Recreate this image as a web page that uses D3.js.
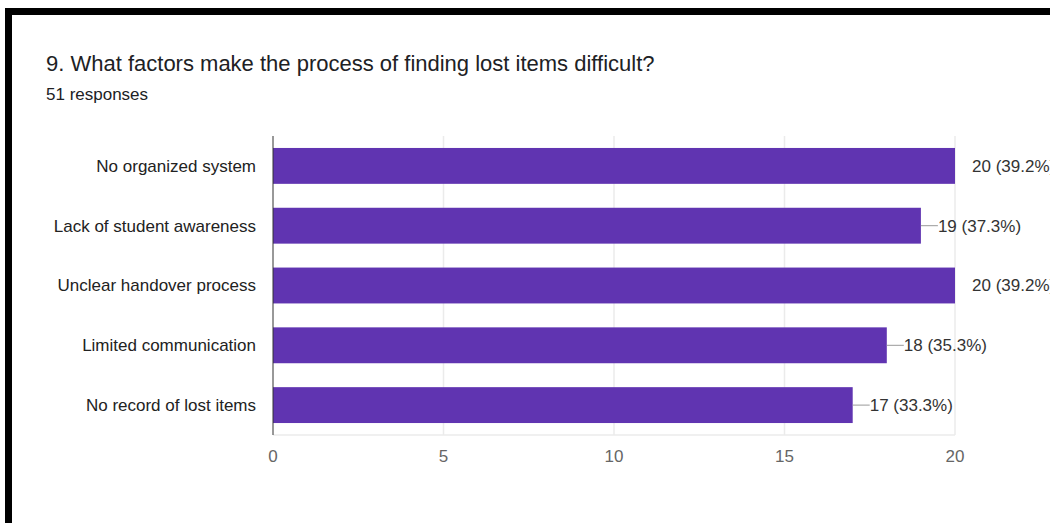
<!DOCTYPE html>
<html>
<head>
<meta charset="utf-8">
<script src="https://cdn.jsdelivr.net/npm/d3@7"></script>
<style>
  html, body { margin: 0; padding: 0; background: #fff; }
  svg { display: block; }
  text { font-family: "Liberation Sans", Arial, sans-serif; }
</style>
</head>
<body>
<svg id="chart" width="1050" height="523"></svg>
<script>
// Survey question and responses
const title = "9. What factors make the process of finding lost items difficult?";
const subtitle = "51 responses";
const totalResponses = 51;
const categories = [
  "No organized system",
  "Lack of student awareness",
  "Unclear handover process",
  "Limited communication",
  "No record of lost items"
];
const counts = [20, 19, 20, 18, 17];
const tickValues = [0, 5, 10, 15, 20];

const svg = d3.select("#chart");
const W = 1050, H = 523;

// Black frame on top and left edges
svg.append("rect").attr("x", 5).attr("y", 8).attr("width", W - 5).attr("height", 7).attr("fill", "#000");
svg.append("rect").attr("x", 5).attr("y", 8).attr("width", 7).attr("height", H - 8).attr("fill", "#000");

// Heading
svg.append("text").attr("x", 46).attr("y", 71)
  .attr("font-size", 22).attr("fill", "#202124").text(title);
svg.append("text").attr("x", 46).attr("y", 100)
  .attr("font-size", 17).attr("fill", "#202124").text(subtitle);

// Plot area
const plot = { left: 273, right: 955, top: 136, bottom: 435 };
const x = d3.scaleLinear().domain([0, d3.max(tickValues)]).range([plot.left, plot.right]);
const y = d3.scaleBand().domain(categories).range([plot.top, plot.bottom]).paddingInner(0.4).paddingOuter(0.2);

// Vertical gridlines
svg.append("g").selectAll("line").data(tickValues.filter(d => d > 0)).join("line")
  .attr("x1", d => x(d)).attr("x2", d => x(d))
  .attr("y1", plot.top).attr("y2", plot.bottom)
  .attr("stroke", "#ebebeb").attr("stroke-width", 1.5);
// Bottom border of plot
svg.append("line").attr("x1", plot.left).attr("x2", plot.right)
  .attr("y1", plot.bottom).attr("y2", plot.bottom)
  .attr("stroke", "#ebebeb").attr("stroke-width", 1.5);

// Bars
svg.append("g").selectAll("rect").data(categories).join("rect")
  .attr("x", x(0))
  .attr("y", d => y(d))
  .attr("width", (d, i) => x(counts[i]) - x(0))
  .attr("height", y.bandwidth())
  .attr("fill", "#6034b1");

// Zero axis line
svg.append("line").attr("x1", x(0)).attr("x2", x(0))
  .attr("y1", plot.top).attr("y2", plot.bottom)
  .attr("stroke", "#333").attr("stroke-width", 1);

// Category labels
svg.append("g").selectAll("text").data(categories).join("text")
  .attr("x", plot.left - 17)
  .attr("y", d => y(d) + y.bandwidth() / 2)
  .attr("dy", "0.35em")
  .attr("text-anchor", "end")
  .attr("font-size", 17).attr("fill", "#222")
  .text(d => d);

// Value annotations with stems
const stem = 17;
const ann = svg.append("g");
categories.forEach((c, i) => {
  const cy = y(c) + y.bandwidth() / 2;
  const xe = x(counts[i]);
  if (counts[i] < x.domain()[1]) {
    ann.append("line").attr("x1", xe).attr("x2", xe + stem)
      .attr("y1", cy).attr("y2", cy)
      .attr("stroke", "#999").attr("stroke-width", 1);
  }
  ann.append("text")
    .attr("x", xe + stem)
    .attr("y", cy).attr("dy", "0.35em")
    .attr("font-size", 17).attr("fill", "#333")
    .text(`${counts[i]} (${(counts[i] / totalResponses * 100).toFixed(1)}%)`);
});

// X tick labels
svg.append("g").selectAll("text").data(tickValues).join("text")
  .attr("x", d => x(d)).attr("y", 462)
  .attr("text-anchor", "middle")
  .attr("font-size", 17).attr("fill", "#666")
  .text(d => d);
</script>
</body>
</html>
